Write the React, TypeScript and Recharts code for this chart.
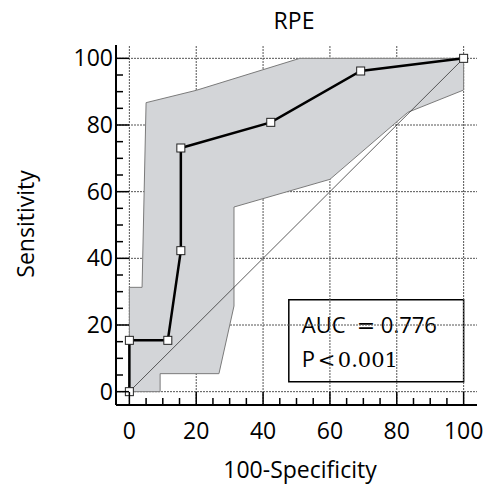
import {
  ScatterChart,
  Scatter,
  XAxis,
  YAxis,
  ReferenceLine,
  ReferenceArea,
  Customized,
} from 'recharts';

const FONT = '"Open Sans", sans-serif';
const SERIF = '"DejaVu Serif", serif';

// ROC curve: 100-Specificity vs Sensitivity
const rocX = [0, 0, 11.5, 15.4, 15.4, 42.3, 69.2, 100];
const rocY = [0, 15.4, 15.4, 42.3, 73.1, 80.8, 96.2, 100];

// confidence band outline, upper edge then lower edge back to origin
const bandX = [0, 0, 3.8, 5.0, 20, 51, 100, 100, 83.3, 60, 31.3, 31.3, 26.8, 9.2, 9.2, 0];
const bandY = [0, 31.3, 31.3, 86.7, 90.4, 100, 100, 90.5, 83.8, 63.7, 55.4, 25.7, 5.4, 5.4, 0, 0];

const diagX = [0, 100];
const diagY = [0, 100];

const axisTicks = [0, 5, 10, 15, 20, 25, 30, 35, 40, 45, 50, 55, 60, 65, 70, 75, 80, 85, 90, 95, 100];
const gridTicks = [0, 20, 40, 60, 80, 100];

const zip = (xs: number[], ys: number[]) => xs.map((x, i) => ({ x, y: ys[i] }));
const rocData = zip(rocX, rocY);
const bandData = zip(bandX, bandY);
const diagData = zip(diagX, diagY);

const emptyShape = () => <g />;

function SquareDot(props: any) {
  const { cx, cy } = props;
  return <rect x={cx - 4} y={cy - 4} width={8} height={8} fill="#fff" stroke="#222" strokeWidth={1} />;
}

function YTick(props: any) {
  const { x, y, payload } = props;
  const major = payload.value % 20 === 0;
  return (
    <g>
      <line x1={x} x2={x + (major ? 13 : 7)} y1={y} y2={y} stroke="#000" strokeWidth={1.5} />
      {major && (
        <text x={x - 3} y={y + 8} textAnchor="end" fontSize={23} fontFamily={FONT} fill="#000">
          {payload.value}
        </text>
      )}
    </g>
  );
}

function XTick(props: any) {
  const { x, y, payload } = props;
  const major = payload.value % 20 === 0;
  return (
    <g>
      <line x1={x} x2={x} y1={y} y2={y - (major ? 13 : 7)} stroke="#000" strokeWidth={1.5} />
      {major && (
        <text x={x} y={y + 34} textAnchor="middle" fontSize={23} fontFamily={FONT} fill="#000">
          {payload.value}
        </text>
      )}
    </g>
  );
}

function Titles() {
  return (
    <g fontFamily={FONT} fill="#000">
      <text x={294} y={29} textAnchor="middle" fontSize={23}>RPE</text>
      <text x={300} y={478} textAnchor="middle" fontSize={23}>100-Specificity</text>
      <text x={34} y={224} textAnchor="middle" fontSize={23} transform="rotate(-90 34 224)">
        Sensitivity
      </text>
    </g>
  );
}

function AucLabel(props: any) {
  const { x, y } = props.viewBox;
  return (
    <g fill="#000">
      <text x={x + 13} y={y + 33} fontSize={22} fontFamily={FONT}>AUC</text>
      <text x={x + 68} y={y + 33} fontSize={22} fontFamily={SERIF}>=</text>
      <text x={x + 92} y={y + 33} fontSize={22} fontFamily={FONT}>0.776</text>
      <text x={x + 13} y={y + 67} fontSize={22} fontFamily={FONT}>P</text>
      <text x={x + 29} y={y + 67} fontSize={21} fontFamily={SERIF}>&lt;</text>
      <text x={x + 49} y={y + 67} fontSize={21} fontFamily={SERIF}>0.001</text>
    </g>
  );
}

export default function App() {
  return (
    <div style={{ position: 'absolute', left: 0, top: 0, background: '#fff' }}>
      <ScatterChart width={490} height={484} margin={{ top: 45, right: 13, bottom: 0, left: 0 }}>
        <XAxis
          type="number"
          dataKey="x"
          domain={[-4, 104]}
          ticks={axisTicks}
          interval={0}
          height={79}
          tickSize={0}
          tickMargin={0}
          tickLine={false}
          tick={<XTick />}
          axisLine={{ stroke: '#000', strokeWidth: 2 }}
        />
        <YAxis
          type="number"
          dataKey="y"
          domain={[-4, 104]}
          ticks={axisTicks}
          interval={0}
          width={116}
          tickSize={0}
          tickMargin={0}
          tickLine={false}
          tick={<YTick />}
          axisLine={{ stroke: '#000', strokeWidth: 2 }}
        />
        <Scatter
          data={bandData}
          shape={emptyShape}
          line={{ fill: '#d3d5d8', stroke: '#7b7b7b', strokeWidth: 1 }}
          isAnimationActive={false}
        />
        {gridTicks.map((v) => (
          <ReferenceLine key={`gx${v}`} x={v} stroke="#555" strokeWidth={1} strokeDasharray="2 1" />
        ))}
        {gridTicks.map((v) => (
          <ReferenceLine key={`gy${v}`} y={v} stroke="#555" strokeWidth={1} strokeDasharray="2 1" />
        ))}
        <Scatter
          data={diagData}
          shape={emptyShape}
          line={{ stroke: '#333', strokeWidth: 0.8 }}
          isAnimationActive={false}
        />
        <Scatter
          data={rocData}
          shape={<SquareDot />}
          line={{ stroke: '#000', strokeWidth: 2.5 }}
          isAnimationActive={false}
        />
        <ReferenceArea
          x1={47.7}
          x2={100}
          y1={3}
          y2={27.6}
          fill="#fff"
          fillOpacity={1}
          stroke="#000"
          strokeWidth={1.5}
          label={<AucLabel />}
        />
        <Customized component={<Titles />} />
      </ScatterChart>
    </div>
  );
}
